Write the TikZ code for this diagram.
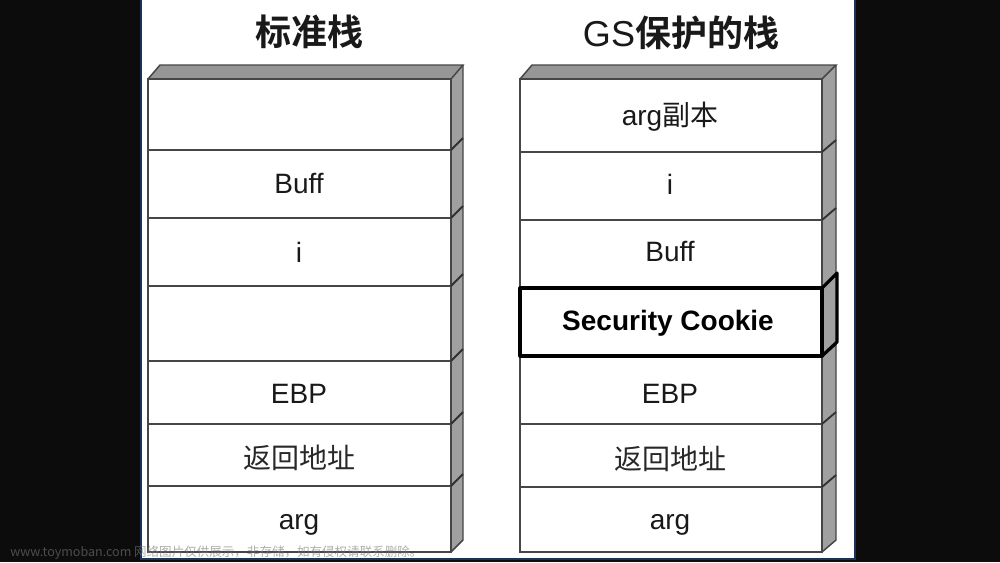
\documentclass[tikz,border=0pt]{standalone}
\usepackage{fontspec}
\setmainfont{Liberation Sans}
\newfontfamily\cjk{Noto Sans CJK SC}
\newfontfamily\cjkbold{Noto Sans CJK SC Bold}
\definecolor{bgblack}{RGB}{12,12,12}
\definecolor{bgblue}{RGB}{25,50,85}
\definecolor{edgegray}{RGB}{70,70,70}
\definecolor{topgray}{RGB}{150,150,150}
\definecolor{sidegray}{RGB}{160,160,160}
\definecolor{txtdark}{RGB}{25,25,25}
\definecolor{txtcjk}{RGB}{40,40,40}
\definecolor{wmgray}{RGB}{120,120,120}
\begin{document}
\begin{tikzpicture}[x=0.75pt,y=-0.75pt,
  edge/.style={draw=edgegray,line width=1.1pt},
  sidetick/.style={draw=edgegray!70!black,line width=1.4pt},
  topface/.style={fill=topgray},
  sideface/.style={fill=sidegray},
  lbl/.style={anchor=base,font=\fontsize{21}{22}\selectfont,text=txtdark},
  cjklbl/.style={font=\cjk\fontsize{21}{22}\selectfont,text=txtcjk},
  title/.style={font=\cjkbold\fontsize{27}{30}\selectfont,text=txtdark},
  cookie/.style={draw=black,line width=2.4pt,line join=round}
]
\useasboundingbox (0,0) rectangle (1000,562);
% background
\fill[bgblack] (0,0) rectangle (1000,562);
\fill[white] (141,0) rectangle (855,558);
\draw[bgblue,line width=1.5pt] (141,0) -- (141,559) -- (855,559) -- (855,0);

% ---------- left stack ----------
\fill[topface] (148,79) -- (160,65) -- (463,65) -- (451,79) -- cycle;
\fill[sideface] (451,79) -- (463,65) -- (463,540) -- (451,552) -- cycle;
\draw[edge] (148,79) rectangle (451,552);
\draw[edge] (148,79) -- (160,65) -- (463,65) -- (451,79);
\draw[edge] (463,65) -- (463,540) -- (451,552);
\foreach \y in {150,218,286,361,424,486}{
  \draw[edge] (148,\y) -- (451,\y);
  \draw[sidetick] (451,\y) -- (463,\y-12);}

\node[title] (t1) at (309,32) {标准栈};
\node[lbl] (l1) at (299,193) {Buff};
\node[lbl] (l2) at (299,262) {i};
\node[lbl] (l3) at (299,403) {EBP};
\node[cjklbl] (l4) at (299,458) {返回地址};
\node[lbl] (l5) at (299,529) {arg};

% ---------- right stack ----------
\fill[topface] (520,79) -- (532,65) -- (836,65) -- (822,79) -- cycle;
\fill[sideface] (822,79) -- (836,65) -- (836,540) -- (822,552) -- cycle;
\draw[edge] (520,79) rectangle (822,552);
\draw[edge] (520,79) -- (532,65) -- (836,65) -- (822,79);
\draw[edge] (836,65) -- (836,540) -- (822,552);
\foreach \y in {152,220,424,487}{
  \draw[edge] (520,\y) -- (822,\y);
  \draw[sidetick] (822,\y) -- (836,\y-12);}
\draw[sidetick] (822,356) -- (836,344);

% security cookie box
\fill[white] (520,288) rectangle (822,356);
\fill[sideface] (822,288) -- (837,273) -- (837,342) -- (822,356) -- cycle;
\draw[cookie] (520,288) rectangle (822,356);
\draw[cookie] (822,288) -- (837,273) -- (837,342) -- (822,356);

\node[title] (t2) at (681,33) {{\fontsize{27}{30}\selectfont\rmfamily GS}保护的栈};
\node[lbl] (r1) at (670,125) {arg{\cjk 副本}};
\node[lbl] (r2) at (670,194) {i};
\node[lbl] (r3) at (670,261) {Buff};
\node[lbl,font=\bfseries\fontsize{21}{22}\selectfont,text=black] (r4) at (668,330) {Security Cookie};
\node[lbl] (r5) at (670,403) {EBP};
\node[cjklbl] (r6) at (670,459) {返回地址};
\node[lbl] (r7) at (670,529) {arg};

% watermark
\node[anchor=west,inner sep=0pt,font=\cjk\fontsize{9.4}{10}\selectfont,text=wmgray,text opacity=0.6] (wm) at (10,553) {www.toymoban.com 网络图片仅供展示，非存储，如有侵权请联系删除。};
\end{tikzpicture}
\end{document}
